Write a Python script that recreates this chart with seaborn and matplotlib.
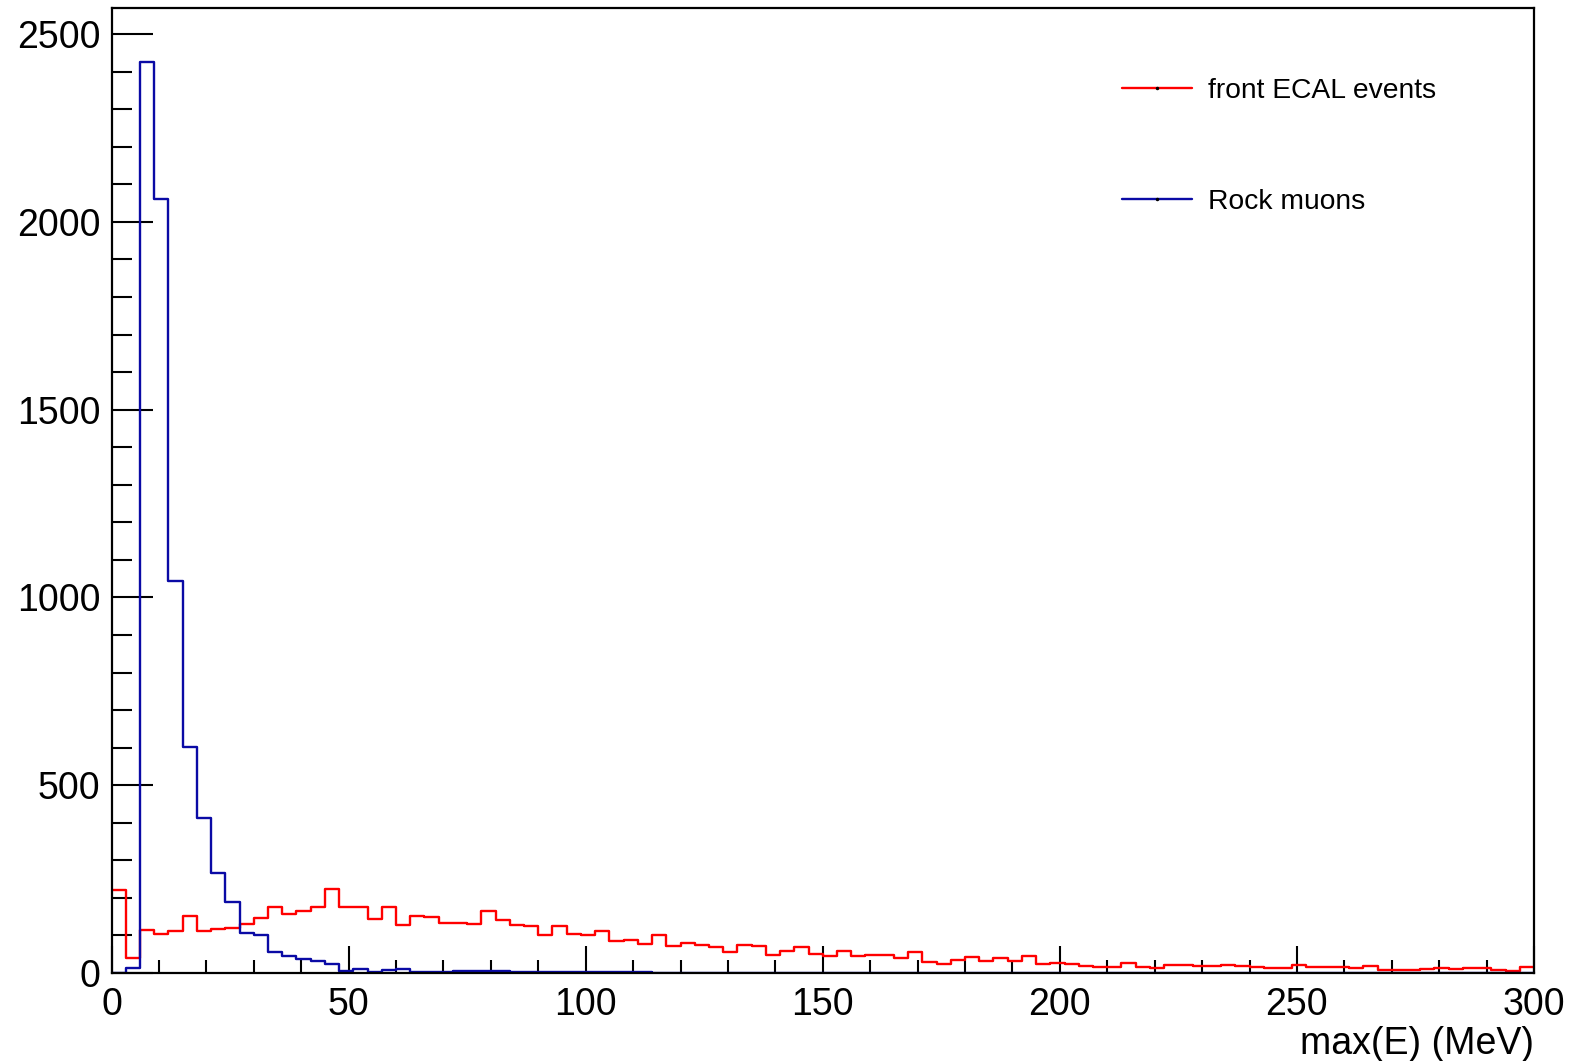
import numpy as np
import pandas as pd
import matplotlib
matplotlib.use("Agg")
import matplotlib.pyplot as plt
from matplotlib.lines import Line2D
import seaborn as sns

# ---- data (3 MeV bins from 0 to 300 MeV) ----
bin_edges = list(range(0, 301, 3))
bin_centers = [e + 1.5 for e in bin_edges[:-1]]

front_ecal_counts = [
    220, 40, 115, 104, 113, 151, 111, 118, 121, 130,
    146, 177, 157, 164, 175, 224, 176, 176, 144, 176,
    128, 153, 148, 133, 133, 130, 166, 140, 128, 124,
    102, 124, 104, 102, 113, 84, 88, 78, 100, 73,
    79, 75, 69, 55, 75, 73, 47, 59, 68, 51,
    44, 59, 46, 49, 49, 41, 57, 29, 24, 35,
    42, 33, 39, 32, 44, 23, 26, 23, 19, 15,
    17, 26, 17, 12, 22, 22, 18, 19, 22, 19,
    16, 13, 13, 22, 16, 15, 16, 13, 18, 7,
    9, 9, 11, 12, 11, 13, 12, 7, 6, 16,
]

rock_muon_counts = [
    0, 13, 2425, 2062, 1044, 603, 414, 266, 188, 106,
    100, 55, 46, 37, 31, 25, 5, 10, 3, 7,
    10, 3, 3, 3, 4, 4, 4, 4, 2, 3,
    3, 2, 2, 2, 2, 2, 2, 2, 1, 0,
    0, 0, 0, 0, 0, 0, 0, 0, 0, 0,
    0, 0, 0, 0, 0, 0, 0, 0, 0, 0,
    0, 0, 0, 0, 0, 0, 0, 0, 0, 0,
    0, 0, 0, 0, 0, 0, 0, 0, 0, 0,
    0, 0, 0, 0, 0, 0, 0, 0, 0, 0,
    0, 0, 0, 0, 0, 0, 0, 0, 0, 0,
]

series_names = ["front ECAL events", "Rock muons"]
series_colors = {"front ECAL events": "#ff0000", "Rock muons": "#0a0aa5"}

x_ticks = [0, 50, 100, 150, 200, 250, 300]
y_ticks = [0, 500, 1000, 1500, 2000, 2500]
x_label = "max(E) (MeV)"

df = pd.DataFrame({
    "energy": bin_centers + bin_centers,
    "count": front_ecal_counts + rock_muon_counts,
    "sample": [series_names[0]] * len(bin_centers) + [series_names[1]] * len(bin_centers),
})

# ---- style ----
sns.set_style("white")
plt.rcParams["font.family"] = ["Liberation Sans", "DejaVu Sans"]
plt.rcParams["text.color"] = "black"
plt.rcParams["axes.labelcolor"] = "black"
plt.rcParams["xtick.color"] = "black"
plt.rcParams["ytick.color"] = "black"

fig = plt.figure(figsize=(15.71, 10.61), dpi=100)
ax = fig.add_axes([111.5 / 1571, 1 - 973 / 1061, (1534 - 111.5) / 1571, (973 - 7.5) / 1061])

for name in series_names:
    sub = df[df["sample"] == name].reset_index(drop=True)
    sns.histplot(
        data=sub, x="energy", weights="count",
        bins=bin_edges, element="step", fill=False,
        color=series_colors[name], linewidth=1.7, ax=ax,
    )

ax.set_xlim(0, 300)
ax.set_ylim(0, 2571)
ax.set_xticks(x_ticks)
ax.set_yticks(y_ticks)
ax.set_xticks(np.arange(0, 301, 10), minor=True)
ax.set_yticks(np.arange(0, 2571, 100), minor=True)

for s in ax.spines.values():
    s.set_visible(True)
    s.set_color("black")
    s.set_linewidth(1.6)

ax.tick_params(axis="both", which="both", direction="in", top=False, right=False,
               bottom=True, left=True, color="black", labelcolor="black", width=1.5)
ax.tick_params(axis="x", which="major", length=19.5, pad=10, labelsize=27)
ax.tick_params(axis="x", which="minor", length=9.5)
ax.tick_params(axis="y", which="major", length=29.5, pad=8, labelsize=27)
ax.tick_params(axis="y", which="minor", length=14.5)

ax.set_ylabel("")
ax.set_xlabel(x_label, fontsize=27, loc="right", labelpad=2, color="black")

handles = [
    Line2D([0], [0], color=series_colors[n], linewidth=1.7, marker="o",
           markersize=1.5, markerfacecolor="black", markeredgecolor="black")
    for n in series_names
]
leg = ax.legend(handles, series_names, loc="upper left",
                bbox_to_anchor=(1122 / 1571, 1 - 78 / 1061), bbox_transform=fig.transFigure,
                frameon=False, fontsize=20.3, handlelength=2.5, handletextpad=0.55,
                labelspacing=3.0, borderpad=0, borderaxespad=0)
for t in leg.get_texts():
    t.set_color("black")

fig.savefig("out.png", dpi=100)
